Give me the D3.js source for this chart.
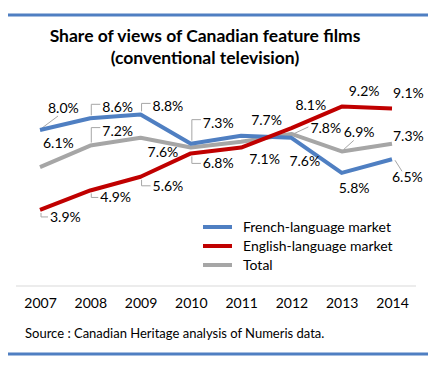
<!DOCTYPE html>
<html><head><meta charset="utf-8">
<script src="https://cdn.jsdelivr.net/npm/d3@7"></script>
<style>body{margin:0;background:#fff}svg{display:block}</style>
</head><body>
<svg id="c" width="432" height="367"></svg>
<script>
const years = ["2007","2008","2009","2010","2011","2012","2013","2014"];
const french = [8.0, 8.6, 8.8, 7.3, 7.7, 7.6, 5.8, 6.5];
const english = [3.9, 4.9, 5.6, 6.8, 7.1, 8.1, 9.2, 9.1];
const total = [6.1, 7.2, 7.6, 7.1, 7.4, 7.8, 6.9, 7.3];
const seriesNames = ["French-language market", "English-language market", "Total"];
const titleLines = ["Share of views of Canadian feature films", "(conventional television)"];
const sourceText = "Source : Canadian Heritage analysis of Numeris data.";

// label placement (styling): [dx, dy, leader]
const frenchLab = [[8,-17,"diag"],[12,-6,"up"],[12,-3,"up"],[12,-16,"up"],[10,-11,null],[-2,28,null],[-3,20,null],[0,23,"diag"]];
const englishLab = [[10,12,"down"],[10,12,"down"],[12,14,"down"],[12,15,"down"],[8,16,null],[4,-18,null],[7,-11,null],[1,-11,null]];
const totalLab = [[3,-19,null],[12,-10,"up"],[7,19,null],[null],[null],[19,-1,"side"],[2,-14,"diag"],[1,-3,null]];

const colors = ["#4f7fc2", "#c00000", "#a6a6a6"];
const font = "Lato, 'Open Sans', sans-serif";

const svg = d3.select("#c");
const x = d3.scalePoint().domain(years).range([40, 392]);
const y = d3.scaleLinear().domain([0, 10]).range([286, 91]);

// rules
svg.append("line").attr("x1",8).attr("x2",428).attr("y1",15).attr("y2",15).attr("stroke","#4f7fc2").attr("stroke-width",3);
svg.append("line").attr("x1",8).attr("x2",428).attr("y1",354).attr("y2",354).attr("stroke","#4f7fc2").attr("stroke-width",3);

// title
titleLines.forEach((t,i)=>{
  svg.append("text").attr("x",205).attr("y",42+i*22).attr("text-anchor","middle")
    .attr("font-family",font).attr("font-weight","bold").attr("font-size",17.5).attr("fill","#000").text(t);
});

// axis
const axis = d3.axisBottom(x).tickSize(0).tickPadding(12);
const ag = svg.append("g").attr("transform","translate(0,286)").call(axis);
ag.select(".domain").remove();
ag.append("line").attr("x1",16).attr("x2",416).attr("stroke","#d9d9d9").attr("stroke-width",1);
ag.selectAll("text").attr("font-family",font).attr("font-size",14).attr("fill","#000");

const line = d3.line().x((d,i)=>x(years[i])).y(d=>y(d));
const data = [french, english, total];
const labs = [frenchLab, englishLab, totalLab];

// leaders
data.forEach((arr,s)=>{
  arr.forEach((v,i)=>{
    const L = labs[s][i];
    if(!L || L[0]==null || !L[2]) return;
    const px = x(years[i]), py = y(v), tx = px+L[0], ty = py+L[1];
    let p;
    if(L[2]==="up") p = `M${px+1},${py-3}V${ty-8}H${tx-2}`;
    else if(L[2]==="down") p = `M${px+1},${py+3}V${ty-5}H${tx-2}`;
    else if(L[2]==="side") p = `M${px+2},${py}L${tx-2},${ty-6}`;
    else p = (L[1]<0) ? `M${px+2},${py-2}L${tx+10},${ty+3}` : `M${px+3},${py+1}L${tx+10},${ty-11}`;
    svg.append("path").attr("d",p).attr("fill","none").attr("stroke","#a6a6a6").attr("stroke-width",1);
  });
});

// lines (draw total, french, english order)
[2,0,1].forEach(s=>{
  svg.append("path").datum(data[s]).attr("d",line).attr("fill","none")
    .attr("stroke",colors[s]).attr("stroke-width",4).attr("stroke-linejoin","round");
});

// labels
data.forEach((arr,s)=>{
  arr.forEach((v,i)=>{
    const L = labs[s][i];
    if(!L || L[0]==null) return;
    svg.append("text").attr("x",x(years[i])+L[0]).attr("y",y(v)+L[1])
      .attr("font-family",font).attr("font-size",14).attr("fill","#000")
      .text(d3.format(".1f")(v)+"%");
  });
});

// legend
seriesNames.forEach((n,i)=>{
  const ly = 227 + i*19;
  svg.append("line").attr("x1",203).attr("x2",232).attr("y1",ly).attr("y2",ly).attr("stroke",colors[i]).attr("stroke-width",4);
  svg.append("text").attr("x",243).attr("y",ly+5).attr("font-family",font).attr("font-size",14).attr("fill","#000").text(n);
});

// source
svg.append("text").attr("x",25).attr("y",338).attr("font-family",font).attr("font-size",13).attr("fill","#000").text(sourceText);
</script>
</body></html>
